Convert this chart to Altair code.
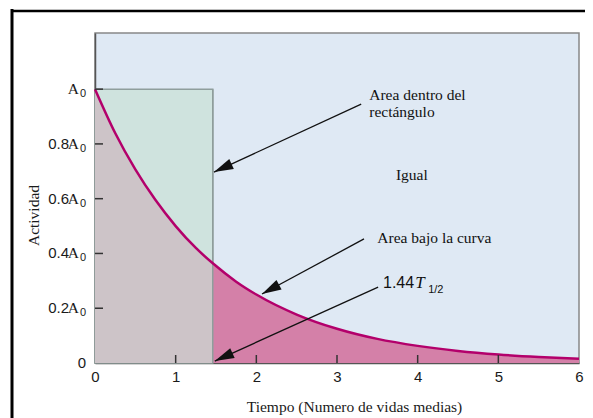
import altair as alt
import pandas as pd
import math

# ---- data ----
time = [0, 0.25, 0.5, 0.75, 1.0, 1.25, 1.46, 1.75, 2.0, 2.5, 3.0, 3.5, 4.0, 4.5, 5.0, 5.5, 6.0]
activity = [1.0, 0.84, 0.707, 0.595, 0.5, 0.42, 0.364, 0.297, 0.25, 0.177, 0.125, 0.088, 0.0625, 0.044, 0.031, 0.022, 0.0156]
mean_life = 1.46
x_ticks = [0, 1, 2, 3, 4, 5, 6]
y_ticks = [0, 0.2, 0.4, 0.6, 0.8, 1.0]
y_numbers = ["0", "0.2", "0.4", "0.6", "0.8", ""]
y_has_a = [False, True, True, True, True, True]

# annotations: (text, x, y)
notes = [
    ("Area dentro del", 3.40, 0.960),
    ("rectángulo", 3.40, 0.898),
    ("Igual", 3.73, 0.668),
    ("Area bajo la curva", 3.50, 0.438),
]
# arrows: tail (x, y) -> tip (x, y)
arrows = [
    (3.30, 0.945, 1.475, 0.697),
    (3.335, 0.453, 2.07, 0.252),
    (3.51, 0.277, 1.485, 0.007),
]

W, H = 484, 330
XMAX, YMAX = 6, 1.205
pxx, pxy = W / XMAX, H / YMAX

xs = alt.Scale(domain=[0, XMAX], nice=False, zero=False)
ys = alt.Scale(domain=[0, YMAX], nice=False)

curve = pd.DataFrame({"t": time, "a": activity})
left = curve[curve.t <= mean_life]
right = curve[curve.t >= mean_life]
rect_df = pd.DataFrame({"x0": [0], "x1": [mean_life], "y0": [0], "y1": [1.0]})
one = pd.DataFrame({"k": [0]})

serif = "Liberation Serif"
sans = "Liberation Sans"
ink = "#1a1a1a"

base_x = alt.X("t:Q", scale=xs, axis=alt.Axis(
    values=x_ticks, format="d", labelFlush=False, ticks=False, grid=False,
    labelFont=sans, labelFontSize=15, labelColor=ink, labelPadding=6,
    domainColor="#555", domainWidth=1.5,
    title="Tiempo (Numero de vidas medias)", titleFont=serif, titleFontSize=15.5,
    titleFontWeight="normal", titleColor=ink, titleX=259, titleY=48,
    titleAlign="center", titleBaseline="alphabetic"))
base_y = alt.Y("a:Q", scale=ys, axis=alt.Axis(
    values=y_ticks, labels=False, ticks=False, grid=False,
    domainColor="#555", domainWidth=1.5,
    title="Actividad", titleFont=serif, titleFontSize=15.5, titleFontWeight="normal",
    titleColor=ink, titleAngle=270, titleX=-57, titleY=182,
    titleAlign="center", titleBaseline="alphabetic"))

rect = alt.Chart(rect_df).mark_rect(fill="#cfe3de", stroke="#8f9e9c", strokeWidth=1.5).encode(
    x=alt.X("x0:Q", scale=xs), x2="x1", y=alt.Y("y0:Q", scale=ys), y2="y1")

area_left = alt.Chart(left).mark_area(color="#cdc4c8", interpolate="monotone").encode(
    x=base_x, y=base_y)
area_right = alt.Chart(right).mark_area(color="#d480a8", interpolate="monotone").encode(
    x=alt.X("t:Q", scale=xs), y=alt.Y("a:Q", scale=ys))
rect_edge = alt.Chart(rect_df).mark_rule(color="#8f9e9c", strokeWidth=1.5).encode(
    x=alt.X("x1:Q", scale=xs), y=alt.Y("y0:Q", scale=ys), y2="y1")
line = alt.Chart(curve).mark_line(color="#b3006b", strokeWidth=2.5, interpolate="monotone").encode(
    x=alt.X("t:Q", scale=xs), y=alt.Y("a:Q", scale=ys))

# inward ticks
yt = alt.Chart(pd.DataFrame({"v": y_ticks[1:]})).mark_rule(color="#333", strokeWidth=1.5).encode(
    y=alt.Y("v:Q", scale=ys), x=alt.value(0), x2=alt.value(8))
xt = alt.Chart(pd.DataFrame({"v": x_ticks[1:-1]})).mark_rule(color="#333", strokeWidth=1.5).encode(
    x=alt.X("v:Q", scale=xs), y=alt.value(H), y2=alt.value(H - 8))

# y tick labels: number (sans) + A (serif) + subscript 0
ylab = pd.DataFrame({"v": y_ticks, "num": y_numbers, "hasA": y_has_a})
ylab["A"] = ["A" if h else "" for h in y_has_a]
ylab["sub"] = ["0" if h else "" for h in y_has_a]
ylab["numx"] = [-26 if h else -9 for h in y_has_a]
ylab_a = ylab[ylab.hasA]
lab_num = alt.Chart(ylab).mark_text(font=sans, fontSize=15, align="right", baseline="middle", color=ink).encode(
    y=alt.Y("v:Q", scale=ys), x=alt.X("numx:Q", scale=None), text="num:N")
lab_A = alt.Chart(ylab_a).mark_text(font=serif, fontSize=15.5, align="right", baseline="middle", color=ink, dx=-16).encode(
    y=alt.Y("v:Q", scale=ys), x=alt.value(0), text="A:N")
lab_sub = alt.Chart(ylab_a).mark_text(font=sans, fontSize=11, align="right", baseline="middle", color=ink, dx=-9, dy=5).encode(
    y=alt.Y("v:Q", scale=ys), x=alt.value(0), text="sub:N")

# arrows
arr_df = pd.DataFrame(arrows, columns=["x0", "y0", "x1", "y1"])
arr_df["ang"] = [
    (math.degrees(math.atan2(-(r.y1 - r.y0) * pxy, (r.x1 - r.x0) * pxx)) + 360) % 360
    for r in arr_df.itertuples()
]
arr_lines = alt.Chart(arr_df).mark_rule(color="#111", strokeWidth=1.3).encode(
    x=alt.X("x0:Q", scale=xs), y=alt.Y("y0:Q", scale=ys), x2="x1", y2="y1")
arr_heads = alt.Chart(arr_df).mark_point(
    shape="M0,0 L-1,-0.28 L-1,0.28 Z", filled=True, color="#111", opacity=1, size=1500
).encode(x=alt.X("x1:Q", scale=xs), y=alt.Y("y1:Q", scale=ys), angle=alt.Angle("ang:Q", scale=None))

notes_df = pd.DataFrame(notes, columns=["txt", "x", "y"])
texts = alt.Chart(notes_df).mark_text(font=serif, fontSize=15.5, align="left", baseline="alphabetic", color="#111").encode(
    x=alt.X("x:Q", scale=xs), y=alt.Y("y:Q", scale=ys), text="txt:N")

half = pd.DataFrame({"txt": ["1.44"], "x": [3.57], "y": [0.274]})
t_half = alt.Chart(half).mark_text(font=sans, fontSize=16, align="left", baseline="alphabetic", color="#111").encode(
    x=alt.X("x:Q", scale=xs), y=alt.Y("y:Q", scale=ys), text="txt:N")
tT = alt.Chart(pd.DataFrame({"txt": ["T"], "x": [3.97], "y": [0.274]})).mark_text(
    font=serif, fontSize=17, fontStyle="italic", align="left", baseline="alphabetic", color="#111").encode(
    x=alt.X("x:Q", scale=xs), y=alt.Y("y:Q", scale=ys), text="txt:N")
tsub = alt.Chart(pd.DataFrame({"txt": ["1/2"], "x": [4.13], "y": [0.256]})).mark_text(
    font=sans, fontSize=11, align="left", baseline="alphabetic", color="#111").encode(
    x=alt.X("x:Q", scale=xs), y=alt.Y("y:Q", scale=ys), text="txt:N")

# outer frame
frame_v = alt.Chart(one).mark_rule(color="#000", strokeWidth=3).encode(
    x=alt.value(-83), y=alt.value(-24), y2=alt.value(420))
frame_h = alt.Chart(one).mark_rule(color="#000", strokeWidth=2.5).encode(
    x=alt.value(-84), x2=alt.value(490), y=alt.value(-22))

chart = alt.layer(
    rect, area_left, area_right, rect_edge, line, yt, xt, lab_num, lab_A, lab_sub,
    arr_lines, arr_heads, texts, t_half, tT, tsub, frame_v, frame_h
).properties(
    width=W, height=H,
    autosize=alt.AutoSizeParams(type="none"),
    padding={"left": 87, "top": 25, "right": 6, "bottom": 60},
    background="white",
).configure_view(stroke="#888", strokeWidth=1.5, fill="#dfe9f4")

chart.save("out.html", embed_options={"renderer": "svg", "actions": False})
